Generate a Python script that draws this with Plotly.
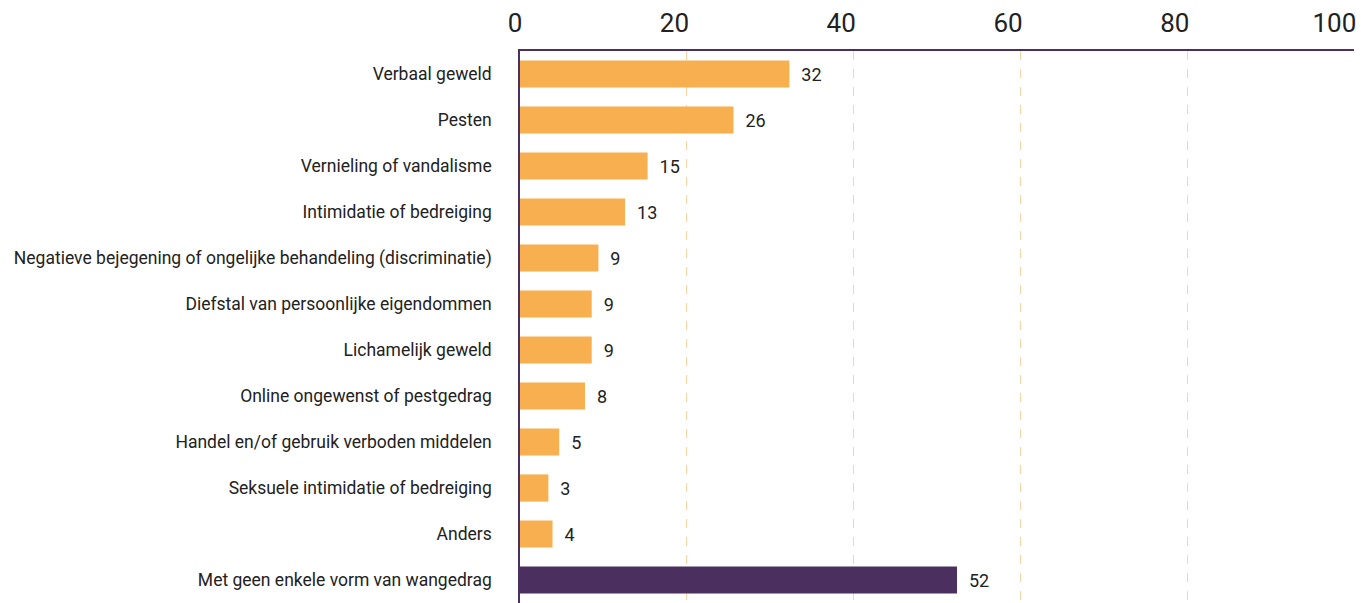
import plotly.graph_objects as go

categories = [
    "Verbaal geweld",
    "Pesten",
    "Vernieling of vandalisme",
    "Intimidatie of bedreiging",
    "Negatieve bejegening of ongelijke behandeling (discriminatie)",
    "Diefstal van persoonlijke eigendommen",
    "Lichamelijk geweld",
    "Online ongewenst of pestgedrag",
    "Handel en/of gebruik verboden middelen",
    "Seksuele intimidatie of bedreiging",
    "Anders",
    "Met geen enkele vorm van wangedrag",
]
values = [32.3, 25.6, 15.3, 12.6, 9.4, 8.6, 8.6, 7.8, 4.7, 3.4, 3.9, 52.4]
bar_colors = ["#F8AF4F"] * 11 + ["#4B2F5F"]
x_ticks = [0, 20, 40, 60, 80, 100]
x_tick_labels = ["0", "20", "40", "60", "80", "100"]

NB = "\u00a0"
FONT = "Roboto, Liberation Sans Narrow, sans-serif"

fig = go.Figure(
    go.Bar(
        x=values,
        y=categories,
        orientation="h",
        marker=dict(color=bar_colors, line=dict(width=0)),
        texttemplate=NB + NB + "%{x:.0f}",
        textposition="outside",
        textfont=dict(family=FONT, size=18, color="#222222"),
        cliponaxis=False,
        hoverinfo="skip",
    )
)

fig.update_layout(
    width=1361,
    height=603,
    margin=dict(l=519.5, r=6.5, t=51, b=0, autoexpand=False),
    paper_bgcolor="white",
    plot_bgcolor="white",
    bargap=0.41,
    showlegend=False,
    font=dict(family=FONT, color="#222222"),
)

fig.update_xaxes(
    side="top",
    range=[0, 100],
    tickvals=x_ticks,
    ticktext=x_tick_labels,
    tickfont=dict(family=FONT, size=26, color="#222222"),
    ticklabelposition="outside left",
    ticklabelshift=3,
    ticklabeloverflow="allow",
    showgrid=True,
    gridcolor="#FDD3A3",
    griddash="dash",
    gridwidth=1,
    showline=True,
    linecolor="#4B2F5F",
    linewidth=1.5,
    zeroline=False,
    ticks="",
    ticklabelstandoff=7,
    automargin=False,
)

fig.update_yaxes(
    categoryorder="array",
    categoryarray=categories,
    autorange="reversed",
    tickfont=dict(family=FONT, size=17.5, color="#222222"),
    showline=True,
    linecolor="#4B2F5F",
    linewidth=1.5,
    showgrid=False,
    ticks="",
    ticklabelstandoff=23,
    automargin=False,
)

fig.write_html(
    "out.html",
    config={"displayModeBar": False},
    post_script="document.body.style.margin='0';document.body.style.overflow='hidden';",
)
